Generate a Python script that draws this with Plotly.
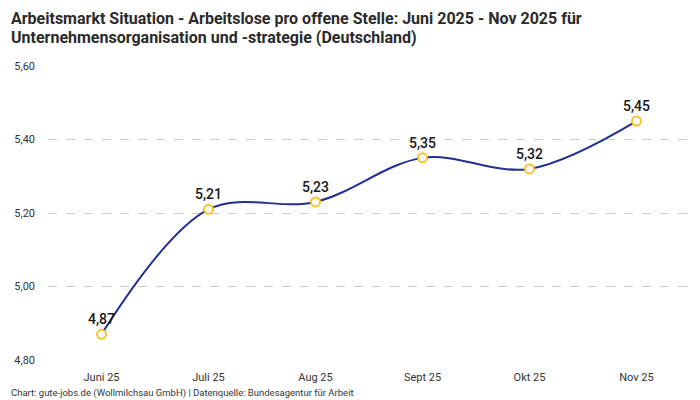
import plotly.graph_objects as go

# Monate und Werte (Arbeitslose pro offene Stelle)
months = ["Juni 25", "Juli 25", "Aug 25", "Sept 25", "Okt 25", "Nov 25"]
values = [4.87, 5.21, 5.23, 5.35, 5.32, 5.45]
labels = ["4,87", "5,21", "5,23", "5,35", "5,32", "5,45"]

LINE_COLOR = "#1f2f92"
MARKER_COLOR = "#f9c22b"
FONT = "Roboto"

# page body adds ~8px margin, so the figure is a bit smaller than the window
W, H = 692, 392
M_L, M_R, M_T, M_B = 40, 10, 58, 40
plot_h = H - M_T - M_B
plot_w = W - M_L - M_R


def px_x(x):
    return (x - M_L) / plot_w


def px_y(y):
    return 1 + (M_T - y) / plot_h


fig = go.Figure()
fig.add_trace(
    go.Scatter(
        x=months,
        y=values,
        mode="lines+markers+text",
        line=dict(color=LINE_COLOR, width=2, shape="spline", smoothing=1.0),
        marker=dict(size=9, color="white", line=dict(color=MARKER_COLOR, width=2)),
        text=labels,
        textposition="top center",
        textfont=dict(family=FONT, size=14, color="#1a1a1a", weight=500),
        showlegend=False,
        cliponaxis=False,
    )
)

title_lines = [
    "Arbeitsmarkt Situation - Arbeitslose pro offene Stelle: Juni 2025 - Nov 2025 für",
    "Unternehmensorganisation und -strategie (Deutschland)",
]
annotations = [
    dict(
        text=f"<b>{line}</b>",
        xref="paper",
        yref="paper",
        x=px_x(1),
        y=px_y(-1 + 18.5 * i),
        xanchor="left",
        yanchor="top",
        showarrow=False,
        font=dict(family=FONT, size=16, color="#2b2b2b"),
    )
    for i, line in enumerate(title_lines)
]
annotations.append(
    dict(
        text="Chart: gute-jobs.de (Wollmilchsau GmbH) | Datenquelle: Bundesagentur für Arbeit",
        xref="paper",
        yref="paper",
        x=px_x(1),
        y=-33 / plot_h,
        xanchor="left",
        yanchor="middle",
        showarrow=False,
        font=dict(family=FONT, size=9.5, color="#333333"),
    )
)

fig.update_layout(
    width=W,
    height=H,
    separators=",.",
    paper_bgcolor="white",
    plot_bgcolor="white",
    font=dict(family=FONT, color="#333333"),
    margin=dict(l=M_L, r=M_R, t=M_T, b=M_B),
    annotations=annotations,
)

fig.update_xaxes(
    range=[-0.5, 5.5],
    automargin=False,
    showgrid=False,
    showline=False,
    zeroline=False,
    ticks="",
    ticklabelstandoff=9,
    tickfont=dict(family=FONT, size=11, color="#333333"),
)
fig.update_yaxes(
    range=[4.8, 5.6],
    automargin=False,
    dtick=0.2,
    tickformat=".2f",
    showgrid=True,
    gridcolor="#cccccc",
    griddash="dash",
    gridwidth=1,
    zeroline=False,
    showline=False,
    ticks="",
    ticklabelstandoff=12,
    tickfont=dict(family=FONT, size=11, color="#333333"),
)

fig.write_html("out.html")
